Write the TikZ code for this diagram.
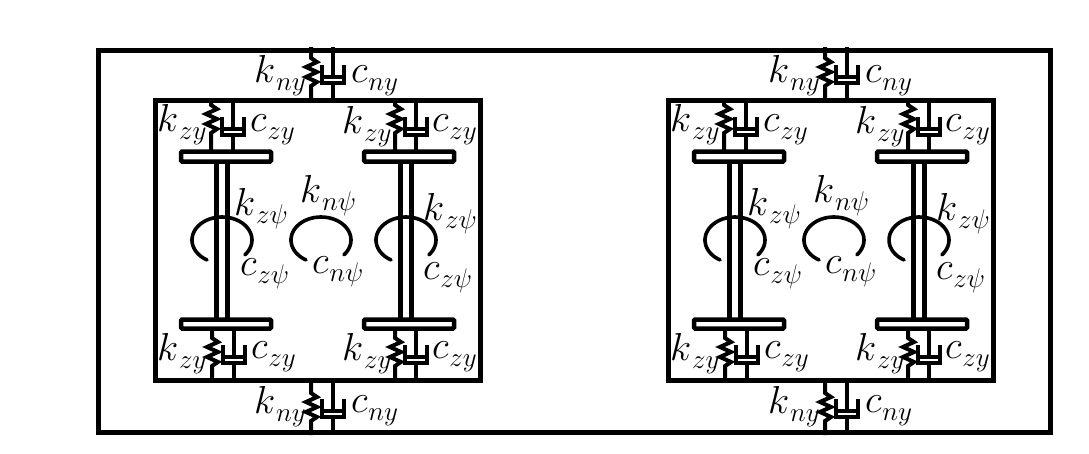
\RequirePackage{fix-cm}
\documentclass[tikz,border=0pt]{standalone}
\newcommand{\sdunit}[6]{% xs xd ytop ybot ziptop piston
  \draw[sprline] (#1,#3) -- (#1,#5) -- ++(6,4) -- ++(-11,5) -- ++(11,5) -- ++(-11,5) -- ++(11,5) -- ++(-6,4) -- (#1,#4);
  \draw[sprline] (#2,#3) -- (#2,#6);
  \draw[sprline] (#2-11,#6-12) -- (#2-11,#6+6) -- (#2+11,#6+6) -- (#2+11,#6-12);
  \draw[sprline] (#2-11,#6) -- (#2+11,#6);
  \draw[sprline] (#2,#6+6) -- (#2,#4);
}
\newcommand{\lbl}[5]{%
  \node[mainlab] (#1) at (#2,#3) {$#4$};
  \node[sublab] (#1s) at ([shift={(1,8)}]#1.base east) {$#5$};
}
\newcommand{\torsion}[2]{\draw[spiral] plot[domain=-40:240,samples=50,smooth] ({#1+30*cos(\x)},{#2-23*sin(\x)});}
\newcommand{\bogielabels}[3]{%
  \begin{scope}[xshift=#2 pt]
    \lbl{knyt#3}{254}{82}{k}{ny}
    \lbl{cnyt#3}{351}{82}{c}{ny}
    \lbl{knyb#3}{254}{413}{k}{ny}
    \lbl{cnyb#3}{351}{412}{c}{ny}
  \end{scope}
  \begin{scope}[xshift=#1 pt]
    \lbl{kzta#3}{157}{131}{k}{zy}
    \lbl{czta#3}{250}{131}{c}{zy}
    \lbl{kztb#3}{342}{133}{k}{zy}
    \lbl{cztb#3}{432}{131}{c}{zy}
    \lbl{kzba#3}{157}{360}{k}{zy}
    \lbl{czba#3}{251}{358}{c}{zy}
    \lbl{kzbb#3}{342}{360}{k}{zy}
    \lbl{czbb#3}{432}{358}{c}{zy}
    \lbl{kpa#3}{234}{215}{k}{z\psi}
    \lbl{kpb#3}{423}{220}{k}{z\psi}
    \lbl{kpn#3}{300}{202}{k}{n\psi}
    \lbl{cpa#3}{240}{275}{c}{z\psi}
    \lbl{cpb#3}{423}{279}{c}{z\psi}
    \lbl{cpn#3}{312}{273}{c}{n\psi}
  \end{scope}
}
\newcommand{\bogieshapes}[2]{%
  \begin{scope}[xshift=#2 pt]
    \sdunit{311}{333}{47}{100}{58}{77}
    \sdunit{311}{333}{380}{435}{393}{411}
  \end{scope}
  \begin{scope}[xshift=#1 pt]
    \draw[frame] (155,100) rectangle (480,380);
    \draw[axle] (216.5,162) -- (216.5,320);
    \draw[axle] (227.5,162) -- (227.5,320);
    \draw[axle] (400.5,162) -- (400.5,320);
    \draw[axle] (411.5,162) -- (411.5,320);
    \draw[plate] (181,151.5) rectangle ++(90,10);
    \draw[plate] (181,319.5) rectangle ++(90,9);
    \draw[plate] (364,151.5) rectangle ++(90,10);
    \draw[plate] (364,319.5) rectangle ++(90,9);
    \sdunit{211}{233}{100}{151}{105}{129}
    \sdunit{395}{416}{100}{151}{105}{129}
    \sdunit{212}{234}{329}{380}{338}{357}
    \sdunit{395}{416}{329}{380}{338}{357}
    \torsion{222}{240}
    \torsion{321}{240}
    \torsion{406}{240}
  \end{scope}
}
\tikzset{
  frame/.style={line width=5pt,draw=black,line join=miter},
  sprline/.style={line width=4pt,draw=black,line join=miter},
  plate/.style={line width=4.5pt,draw=black,rounded corners=1pt},
  axle/.style={line width=4.5pt,draw=black},
  spiral/.style={line width=3.6pt,draw=black,line cap=round},
  mainlab/.style={anchor=base west,inner sep=0pt,outer sep=0pt,font=\fontsize{39}{39}\selectfont},
  sublab/.style={anchor=base west,inner sep=0pt,outer sep=0pt,font=\fontsize{27}{27}\selectfont}
}
\begin{document}
\begin{tikzpicture}[x=1pt,y=-1pt]
\useasboundingbox (0,0) rectangle (1089,453);
\bogielabels{0}{0}{a}
\bogielabels{513}{514}{b}
\draw[frame] (98,50) rectangle (1050,432);
\bogieshapes{0}{0}
\bogieshapes{513}{514}
\end{tikzpicture}
\end{document}
